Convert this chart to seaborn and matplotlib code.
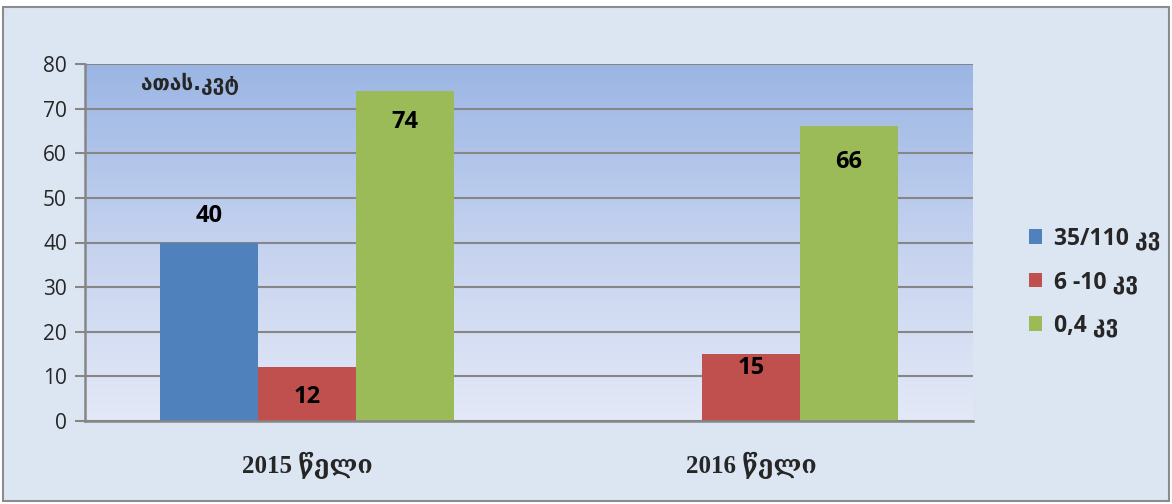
import numpy as np
import pandas as pd
import seaborn as sns
import matplotlib.pyplot as plt
from matplotlib.patches import Rectangle, Patch
from matplotlib.colors import LinearSegmentedColormap

# === data ===
years = ["2015 წელი", "2016 წელი"]
series = ["35/110 კვ", "6 -10 კვ", "0,4 კვ"]
val_35_110 = [40, None]
val_6_10 = [12, 15]
val_04 = [74, 66]
unit_label = "ათას.კვტ"

colors = ["#4f81bd", "#c0504d", "#9bbb59"]

rows = []
for name, vals in zip(series, [val_35_110, val_6_10, val_04]):
    for yr, v in zip(years, vals):
        if v is not None:
            rows.append({"year": yr, "series": name, "value": v})
df = pd.DataFrame(rows)

sns.set_style("white")
plt.rcParams["font.family"] = ["Open Sans", "DejaVu Sans"]

W, H = 1172, 504
fig = plt.figure(figsize=(W / 100, H / 100), dpi=100, facecolor="white")

# outer chart frame
fig.patches.append(Rectangle((3 / W, 3 / H), (W - 6) / W, (H - 10) / H,
                             transform=fig.transFigure, facecolor="#dce6f2",
                             edgecolor="#8c8c8c", linewidth=1.5, zorder=-5))

pos = [85 / W, (H - 421) / H, (973 - 85) / W, (421 - 64) / H]

# gradient background of the plot area
bg = fig.add_axes(pos, zorder=0)
cmap = LinearSegmentedColormap.from_list("plotbg", ["#e4e9f7", "#c5d2ef", "#9bb6e4"])
bg.imshow(np.linspace(0, 1, 256).reshape(-1, 1), cmap=cmap, origin="lower",
          aspect="auto", extent=[0, 1, 0, 1])
bg.axis("off")

ax = fig.add_axes(pos, zorder=1)
ax.set_facecolor("none")
sns.barplot(data=df, x="year", y="value", hue="series", hue_order=series,
            order=years, palette=colors, width=0.66, saturation=1,
            edgecolor="none", linewidth=0, legend=False, ax=ax)

ax.set_ylim(0, 80)
ax.set_xlim(-0.5, 1.5)
ax.set_yticks(range(0, 81, 10))
ax.set_axisbelow(True)
ax.yaxis.grid(True, color="#868686", linewidth=1.5)
ax.set_xlabel("")
ax.set_ylabel("")
for s in ["top", "right"]:
    ax.spines[s].set_visible(False)
for s in ["left", "bottom"]:
    ax.spines[s].set_color("#868686")
    ax.spines[s].set_linewidth(1.8)
ax.tick_params(axis="y", length=7, width=1.5, color="#868686", labelsize=15,
               pad=6, left=True)
ax.tick_params(axis="x", length=0, pad=22)
for lab in ax.get_xticklabels():
    lab.set_fontfamily(["Liberation Serif", "DejaVu Serif", "DejaVu Sans"])
    lab.set_fontweight("bold")
    lab.set_fontsize(18)

# value labels (offsets in pixels relative to bar top)
label_offsets = {(0, 0): 26, (1, 0): -30, (2, 0): -31, (1, 1): -14, (2, 1): -36}
for i, cont in enumerate(ax.containers):
    for bar in cont:
        h = bar.get_height()
        if np.isnan(h):
            continue
        j = int(round(bar.get_x() + bar.get_width() / 2))
        off = label_offsets.get((i, j), -20)
        ax.annotate(f"{h:.0f}", (bar.get_x() + bar.get_width() / 2, h),
                    xytext=(0, off * 0.72), textcoords="offset points",
                    ha="center", va="center", fontsize=17, fontweight="bold",
                    color="black")

ax.text(0.118, 0.944, unit_label, transform=ax.transAxes, ha="center",
        va="center", fontsize=15, fontweight="bold",
        family=["DejaVu Sans"])

handles = [Patch(facecolor=c, edgecolor="none") for c in colors]
leg = fig.legend(handles, series, loc="center left",
                 bbox_to_anchor=(1008 / W, (H - 282) / H), frameon=False,
                 handlelength=0.6, handleheight=0.6, handletextpad=0.5,
                 labelspacing=0.85,
                 prop={"family": ["Open Sans", "DejaVu Sans"], "weight": "bold",
                       "size": 16.5})

fig.savefig("out.png", dpi=100, facecolor=fig.get_facecolor())
